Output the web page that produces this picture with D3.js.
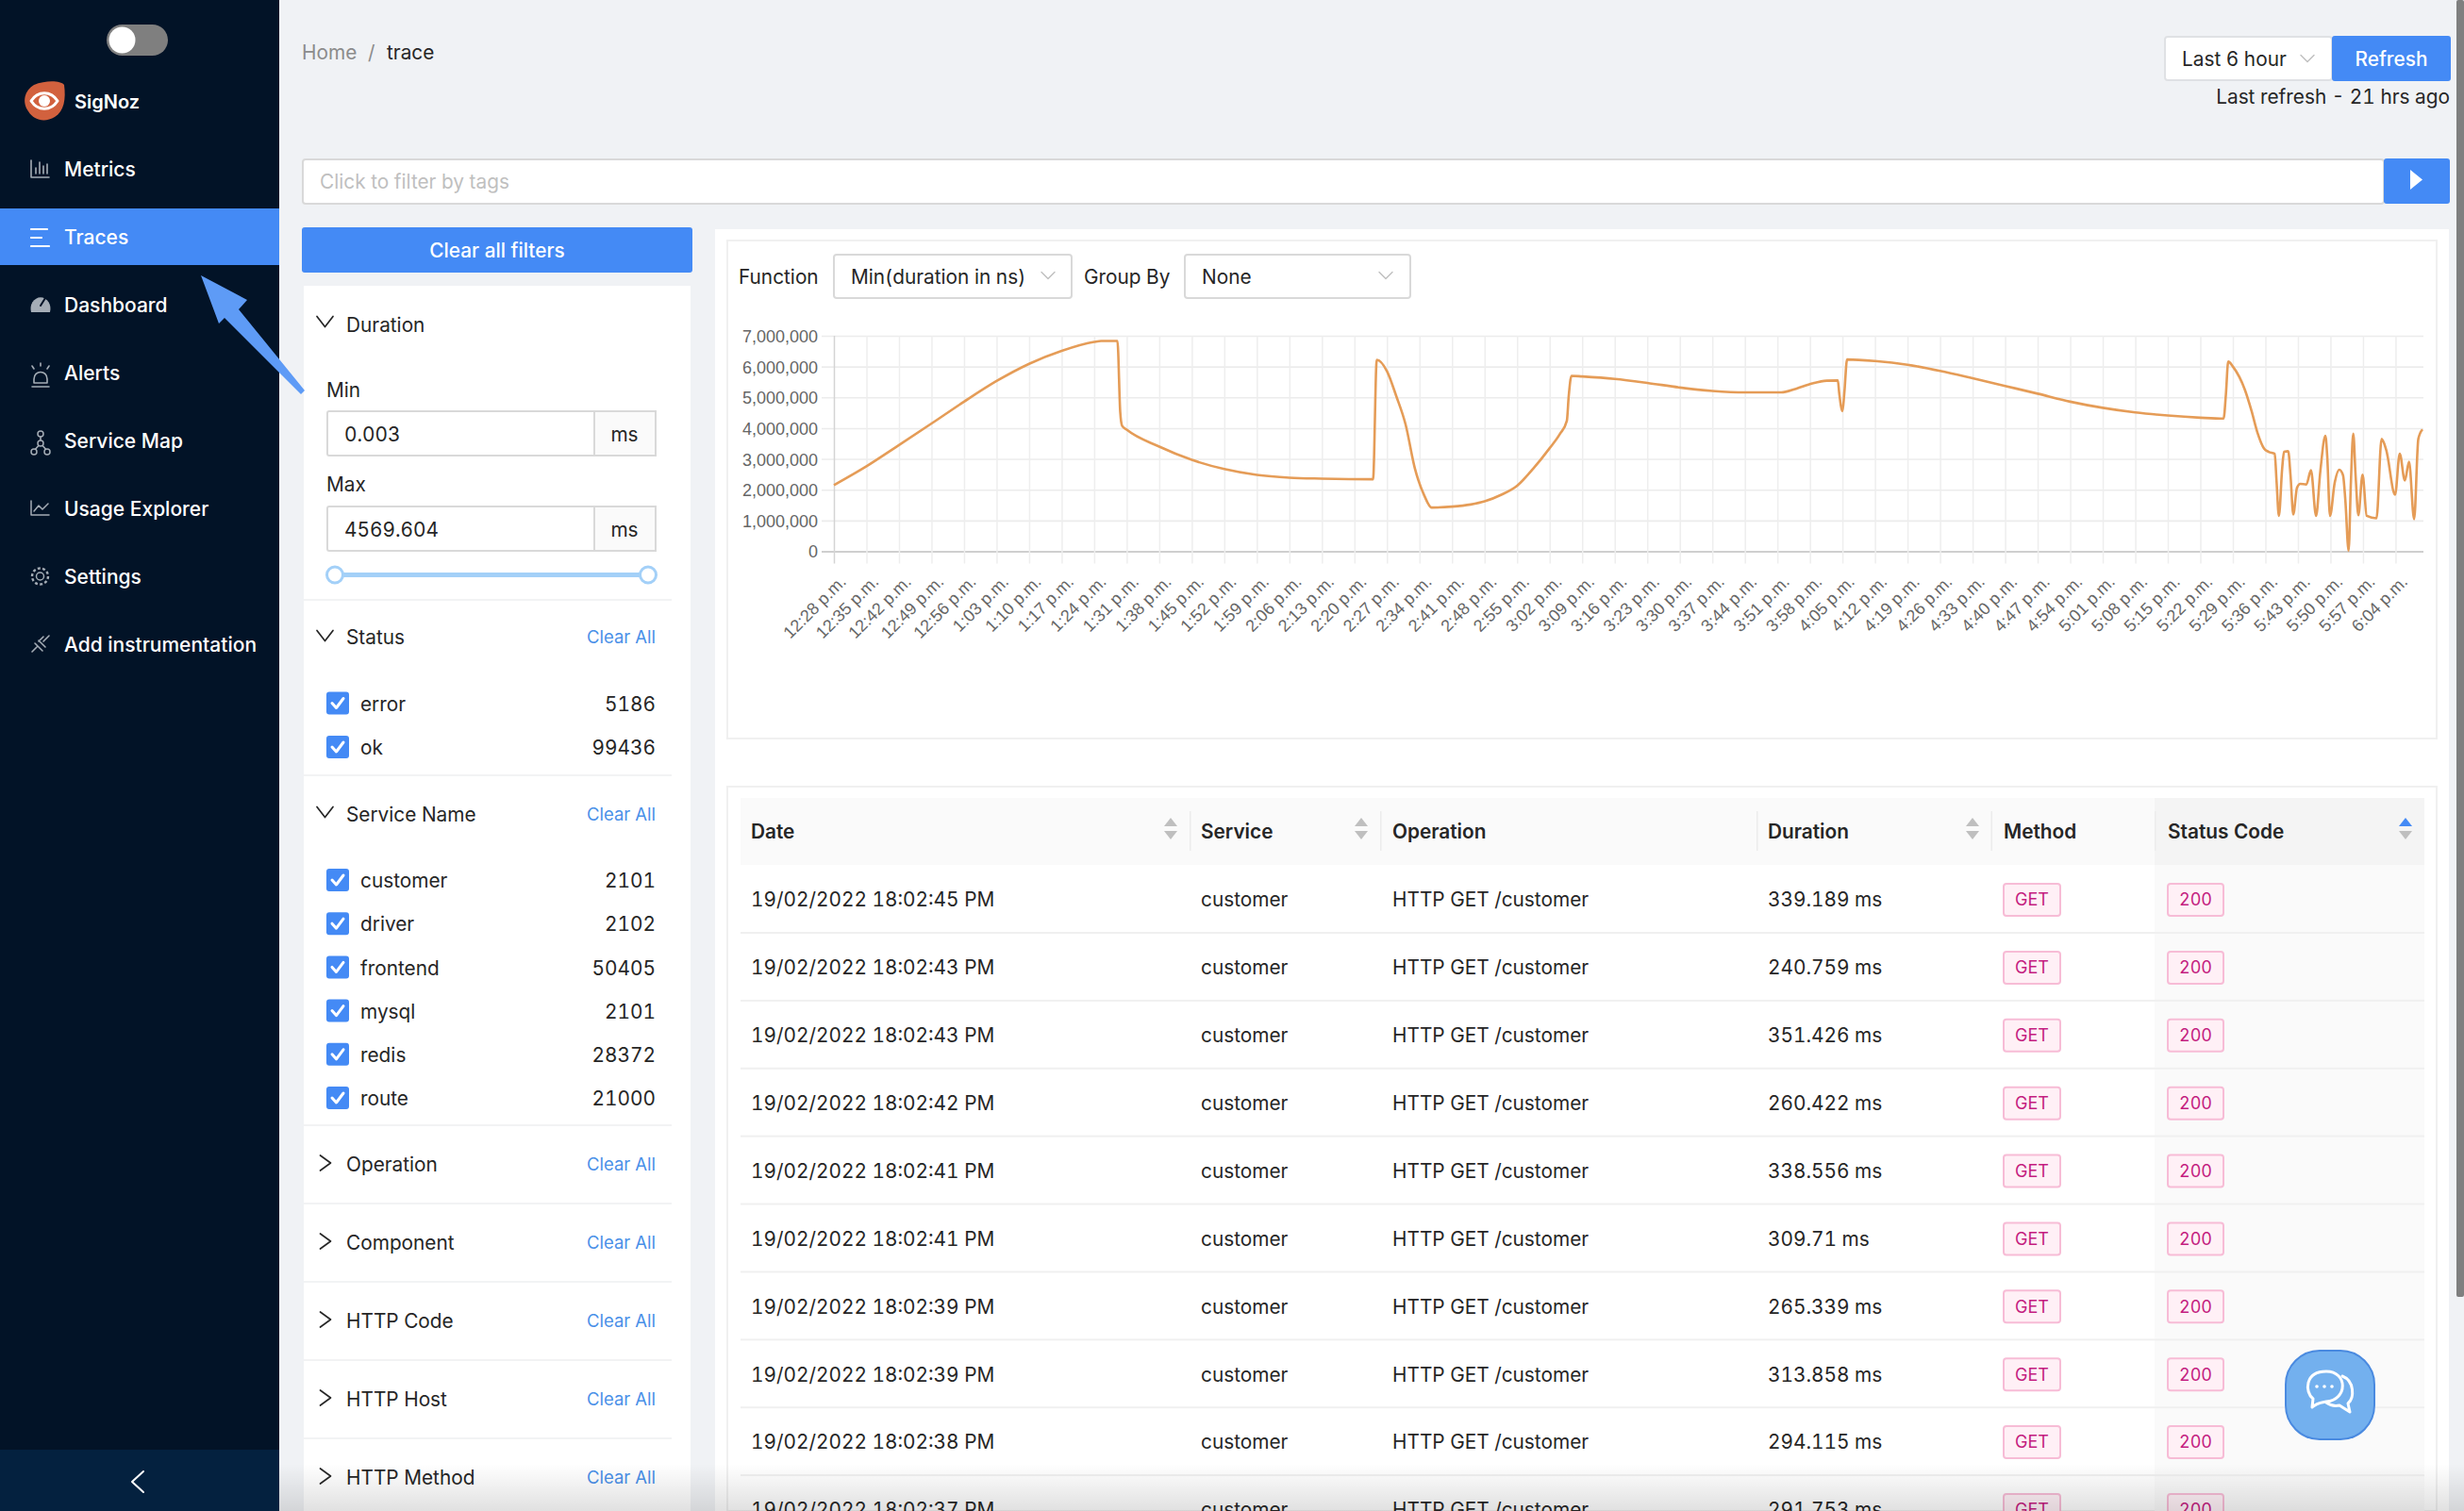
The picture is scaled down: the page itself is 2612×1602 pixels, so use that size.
<!DOCTYPE html>
<html><head><meta charset="utf-8">
<script src="https://cdn.jsdelivr.net/npm/d3@7"></script>
<style>html,body{margin:0;padding:0;background:#f0f2f5;overflow:hidden}svg{display:block}text{font-variant-numeric:tabular-nums}</style>
</head><body><svg id="c" width="2612" height="1602"></svg>
<script>
// ---------- chart data ----------
const minutes = [0,7,14,21,28,35,42,49,56,57.5,61,61.6,62,63,70,77,84,91,98,105,116,116.8,119,121,123,125,127,128.6,133,137,140,143.5,147,150.5,154,156.2,157.7,158.1,158.7,161,168,175,182,189,196,203.8,207,210.5,213.6,216,216.3,217,217.4,218,224,231,238,245,252,259,266,273,280,287,294,299,299.5,300,301,303.6,305,306.3,307.7,308.7,310,310.4,310.9,311.6,312,312.9,313.4,314,314.8,315.5,316.8,317.8,318.9,319.8,320.9,321.3,321.9,322.9,323.9,324.7,325.2,325.9,326.4,326.9,327.4,328,328.9,329.8,331.9,333,334,335.9,336.9,338,338.9,340,340.9,341.8];
const durations = [2150000,2760000,3450000,4150000,4860000,5530000,6090000,6510000,6800000,6830000,6830000,4530000,4080000,3950000,3400000,2970000,2670000,2480000,2390000,2360000,2340000,6220000,5850000,5040000,4120000,2690000,1820000,1420000,1450000,1520000,1620000,1830000,2130000,2690000,3350000,3810000,4240000,5040000,5700000,5680000,5600000,5470000,5320000,5210000,5160000,5160000,5280000,5450000,5540000,5550000,5140000,4550000,5140000,6230000,6180000,6060000,5860000,5620000,5370000,5120000,4860000,4660000,4510000,4410000,4340000,4310000,5100000,6160000,6000000,5240000,4570000,3850000,3340000,3230000,3170000,2270000,1150000,2680000,3230000,3250000,2470000,1200000,2070000,2190000,2170000,2630000,1150000,2580000,3750000,3090000,1150000,2220000,2650000,2470000,1660000,20000,2270000,3820000,2470000,1170000,2490000,1150000,1070000,3650000,3290000,1840000,3170000,2300000,2910000,1040000,3650000,3960000];
const yTicks = [0,1000000,2000000,3000000,4000000,5000000,6000000,7000000];
const xTickLabels = ["12:28 p.m.","12:35 p.m.","12:42 p.m.","12:49 p.m.","12:56 p.m.","1:03 p.m.","1:10 p.m.","1:17 p.m.","1:24 p.m.","1:31 p.m.","1:38 p.m.","1:45 p.m.","1:52 p.m.","1:59 p.m.","2:06 p.m.","2:13 p.m.","2:20 p.m.","2:27 p.m.","2:34 p.m.","2:41 p.m.","2:48 p.m.","2:55 p.m.","3:02 p.m.","3:09 p.m.","3:16 p.m.","3:23 p.m.","3:30 p.m.","3:37 p.m.","3:44 p.m.","3:51 p.m.","3:58 p.m.","4:05 p.m.","4:12 p.m.","4:19 p.m.","4:26 p.m.","4:33 p.m.","4:40 p.m.","4:47 p.m.","4:54 p.m.","5:01 p.m.","5:08 p.m.","5:15 p.m.","5:22 p.m.","5:29 p.m.","5:36 p.m.","5:43 p.m.","5:50 p.m.","5:57 p.m.","6:04 p.m."];
const xTickMinutes = xTickLabels.map((_, i) => i * 7);
// ---------- table data ----------
const tableHeaders = ["Date","Service","Operation","Duration","Method","Status Code"];
const rowDates = ["19/02/2022 18:02:45 PM","19/02/2022 18:02:43 PM","19/02/2022 18:02:43 PM","19/02/2022 18:02:42 PM","19/02/2022 18:02:41 PM","19/02/2022 18:02:41 PM","19/02/2022 18:02:39 PM","19/02/2022 18:02:39 PM","19/02/2022 18:02:38 PM","19/02/2022 18:02:37 PM"];
const rowDurations = ["339.189 ms","240.759 ms","351.426 ms","260.422 ms","338.556 ms","309.71 ms","265.339 ms","313.858 ms","294.115 ms","291.753 ms"];
const rowService = "customer", rowOperation = "HTTP GET /customer", rowMethod = "GET", rowStatus = "200";
// ---------- side panel data ----------
const menuItems = ["Metrics","Traces","Dashboard","Alerts","Service Map","Usage Explorer","Settings","Add instrumentation"];
const statusNames = ["error","ok"], statusCounts = [5186,99436];
const serviceNames = ["customer","driver","frontend","mysql","redis","route"], serviceCounts = [2101,2102,50405,2101,28372,21000];
const collapsedFilters = ["Operation","Component","HTTP Code","HTTP Host","HTTP Method"];

const UI = "Inter, 'Open Sans', sans-serif", CH = "'Liberation Sans', Arial, sans-serif";
const BLUE = "#448af5", INK = "#262626";
const svg = d3.select("#c");
function rect(x,y,w,h,fill,o={}){const r=svg.append("rect").attr("x",x).attr("y",y).attr("width",w).attr("height",h).attr("fill",fill);
  if(o.rx)r.attr("rx",o.rx); if(o.stroke)r.attr("stroke",o.stroke).attr("stroke-width",o.sw||2); return r;}
function txt(x,y,s,o={}){return svg.append("text").attr("x",x).attr("y",y+1).attr("dy","0.35em").text(s)
  .attr("font-family",o.font||UI).attr("font-size",o.size||20.8).attr("font-weight",o.weight||400).attr("fill",o.fill||INK)
  .attr("text-anchor",o.anchor||"start").attr("letter-spacing",o.ls||0);}
function path(d,o={}){return svg.append("path").attr("d",d).attr("fill",o.fill||"none").attr("stroke",o.stroke||"none").attr("stroke-width",o.sw||2).attr("stroke-linecap","round").attr("stroke-linejoin","round");}
function chevDown(cx,cy,c="#262626",w=8.5,h=11,sw=1.7){path(`M${cx-w},${cy-h/2}L${cx},${cy+h/2}L${cx+w},${cy-h/2}`,{stroke:c,sw});}
function chevRight(cx,cy){path(`M${cx-5.5},${cy-8}L${cx+5.5},${cy}L${cx-5.5},${cy+8}`,{stroke:"#262626",sw:1.7});}

// ---------- page surfaces ----------
rect(0,0,2612,1602,"#f0f2f5");
rect(0,0,296,1602,"#021327");
rect(0,1537,296,65,"#04213f");
path("M152,1560L140,1571L152,1582",{stroke:"#fff",sw:2});
rect(0,221,296,60,BLUE);
// toggle + logo
rect(113,26,65,33,"#7f7f7f",{rx:16.5});
svg.append("ellipse").attr("cx",129.5).attr("cy",42.5).attr("rx",14).attr("ry",14).attr("fill","#fff");
path("M36,90C48,85 64,85 68,90C70,105 68,118 58,124C48,130 36,128 30,118C23,108 26,96 36,90Z",{fill:"#d2613e"});
path("M33,107C40,96 54,96 61,107C54,118 40,118 33,107Z",{stroke:"#fff",sw:3});
svg.append("circle").attr("cx",47).attr("cy",107).attr("r",6).attr("fill","#fff");
txt(79,107,"SigNoz",{fill:"#fff",weight:600,size:20});
// menu
const menuY = d3.scaleLinear().domain([0,7]).range([179,683]);
menuItems.forEach((m,i)=>txt(68,menuY(i),m,{fill:"#fff",weight:500,size:21}));
const ic="#a5adb6";
path("M33,170V188H52 M38,184V178 M42,184V172 M46,184V176 M50,184V174",{stroke:ic,sw:1.6});
path("M33,243H50 M33,252H44 M33,261H52",{stroke:"#fff",sw:2.2});
path("M33,331A10.5,12 0 1 1 53,331Z",{fill:ic});
path("M43,324L48,316",{stroke:"#021327",sw:2});
path("M43,385V388 M34,388L36,391 M52,388L50,391 M36,402C36,392 50,392 50,402V406H36Z M34,410H52",{stroke:ic,sw:1.6});
path("M43,462V470 M43,470L36,478 M43,470L50,478",{stroke:ic,sw:1.6});
[[43,460],[36,479],[50,479],[43,470]].forEach(p=>svg.append("circle").attr("cx",p[0]).attr("cy",p[1]).attr("r",3).attr("fill","#021327").attr("stroke",ic).attr("stroke-width",1.5));
path("M33,531V546H52 M36,542L41,536L45,540L51,534",{stroke:ic,sw:1.5});
svg.append("circle").attr("cx",42.5).attr("cy",611).attr("r",4).attr("fill","none").attr("stroke",ic).attr("stroke-width",1.5);
svg.append("circle").attr("cx",42.5).attr("cy",611).attr("r",8.5).attr("fill","none").attr("stroke",ic).attr("stroke-width",2.4).attr("stroke-dasharray","3 2.3");
path("M34,691L39,686 M41,680L46,675 M37,682L45,690 M41,679L48,686 M46,680L52,674",{stroke:ic,sw:1.6});

// breadcrumb + header controls
txt(320,55,"Home",{fill:"#8c8c8c"});
txt(390,55,"/",{fill:"#8c8c8c"});
txt(410,55,"trace");
rect(2295,39,177,46,"#fff",{stroke:"#dfe1e4",sw:2,rx:3});
txt(2313,62,"Last 6 hour");
chevDown(2446,62,"#bfbfbf",7,7,1.4);
rect(2472,38,126,48,BLUE,{rx:3});
txt(2535,62,"Refresh",{fill:"#fff",anchor:"middle",weight:500});
txt(2597,102,"Last refresh - 21 hrs ago",{anchor:"end"});
rect(321,169,2206,47,"#fff",{stroke:"#d9d9d9",sw:2,rx:3});
txt(339,192,"Click to filter by tags",{fill:"#bfbfbf"});
rect(2527,168,70,48,BLUE,{rx:3});
path("M2555,180L2568,190.5L2555,201Z",{fill:"#fff"});

// left filter panel
rect(320,241,414,48,BLUE,{rx:3});
txt(527,265,"Clear all filters",{fill:"#fff",anchor:"middle",weight:500});
rect(322,303,410,1299,"#fff");
chevDown(344.5,341);
txt(367,344,"Duration");
txt(346,413,"Min");
txt(346,513,"Max");
[[436,"0.003"],[537,"4569.604"]].forEach(([y,v])=>{
  rect(347,y,348,47,"#fff",{stroke:"#d9d9d9",sw:2,rx:2});
  rect(630,y,65,47,"#fafafa",{stroke:"#d9d9d9",sw:2});
  txt(365,y+24,v);
  txt(662,y+24,"ms",{anchor:"middle"});
});
const sliderX = d3.scaleLinear().domain([0.003,4569.604]).range([355,687]);
rect(sliderX(0.003),607,sliderX(4569.604)-sliderX(0.003),5,"#a3d0f8");
[0.003,4569.604].forEach(v=>svg.append("circle").attr("cx",sliderX(v)).attr("cy",609.5).attr("r",8.5).attr("fill","#fff").attr("stroke","#a3d0f8").attr("stroke-width",3));
function divider(y){rect(322,y,390,2,"#f2f3f4");}
function clearAll(y){txt(695,y,"Clear All",{fill:"#4a90e8",anchor:"end",size:18.5});}
function check(y,name,count){
  rect(346,y-12,24,24,BLUE,{rx:3});
  path(`M352,${y}L356.5,${y+5}L364,${y-5}`,{stroke:"#fff",sw:3});
  txt(382,y,name);
  txt(695,y,d3.format("d")(count),{anchor:"end"});
}
divider(635);
chevDown(344.5,674); txt(367,675,"Status"); clearAll(675);
const statusY = d3.scaleLinear().domain([0,1]).range([745.5,792]);
statusNames.forEach((n,i)=>check(statusY(i),n,statusCounts[i]));
divider(821);
chevDown(344.5,861); txt(367,863,"Service Name"); clearAll(863);
const serviceY = d3.scaleLinear().domain([0,5]).range([933,1164]);
serviceNames.forEach((n,i)=>check(serviceY(i),n,serviceCounts[i]));
const collapsedY = d3.scaleLinear().domain([0,4]).range([1234,1566]);
collapsedFilters.forEach((n,i)=>{divider(collapsedY(i)-42);chevRight(345,collapsedY(i)-1);txt(367,collapsedY(i),n);clearAll(collapsedY(i));});

// right content
rect(758,243,1838,1359,"#fff");
rect(771,255,1812,528,"#fff",{stroke:"#f0f0f0",sw:2});
txt(783,292.5,"Function");
rect(884,270,252,46,"#fff",{stroke:"#d9d9d9",sw:2,rx:3});
txt(902,293,"Min(duration in ns)");
chevDown(1111,292,"#bfbfbf",7,7,1.4);
txt(1149,292.5,"Group By");
rect(1256,270,239,46,"#fff",{stroke:"#d9d9d9",sw:2,rx:3});
txt(1274,293,"None");
chevDown(1469,292,"#bfbfbf",7,7,1.4);

// ---------- the chart ----------
const x = d3.scaleLinear().domain([0,342]).range([884,2569]);
const y = d3.scaleLinear().domain([0,7000000]).range([584.5,356]);
const gy = svg.append("g").attr("transform",`translate(${x(0)},0)`)
  .call(d3.axisLeft(y).tickValues(yTicks).tickFormat(d3.format(",")).tickSize(13).tickPadding(4));
gy.select(".domain").remove();
gy.selectAll(".tick line").attr("x2",x(342)-x(0)).attr("x1",-13).attr("stroke",d=>d===0?"#cfcfcf":"#ececec").attr("stroke-width",d=>d===0?2:1.6);
gy.selectAll("text").attr("font-family",CH).attr("font-size",18).attr("fill","#666").attr("dy","0.36em");
const gx = svg.append("g").attr("transform",`translate(0,${y(0)})`)
  .call(d3.axisBottom(x).tickValues(xTickMinutes).tickFormat((d,i)=>xTickLabels[i]).tickSize(13).tickPadding(8));
gx.select(".domain").remove();
gx.selectAll(".tick line").attr("y1",y(7000000)-y(0)).attr("y2",13).attr("stroke",d=>d===0?"#d4d4d4":"#eeeeee").attr("stroke-width",1.5);
gx.selectAll("text").attr("font-family",CH).attr("font-size",18).attr("fill","#666")
  .attr("text-anchor","end").attr("transform","translate(9,29) rotate(-45)").attr("x",0).attr("y",0).attr("dy","0.35em");
const line = d3.line().x((d,i)=>x(minutes[i])).y(d=>y(d)).curve(d3.curveMonotoneX);
svg.append("path").datum(durations).attr("d",line).attr("fill","none").attr("stroke","#e59c57").attr("stroke-width",2.6).attr("stroke-linejoin","round");

// ---------- the table ----------
rect(771,834,1812,768,"#fff",{stroke:"#f0f0f0",sw:2});
rect(785,846,1785,71,"#fafafa");
rect(2284,846,286,71,"#f4f4f4");
rect(2284,917,286,685,"#fafafa");
const headerX = [796,1273,1476,1874,2124,2298];
const sepX = [1261,1463,1862,2110.5,2284];
const sortX = [1241,1443,2091,null,2550];
tableHeaders.forEach((h,i)=>txt(headerX[i],881,h,{weight:600}));
sepX.forEach(v=>rect(v,860,1.5,42,"#ececec"));
sortX.forEach((v,i)=>{ if(v===null) return;
  path(`M${v-7},${876}L${v},${867}L${v+7},${876}Z`,{fill:i===4?BLUE:"#bfbfbf"});
  path(`M${v-7},${881}L${v},${890}L${v+7},${881}Z`,{fill:"#bfbfbf"});
});
const rowY = d3.scaleLinear().domain([0,9]).range([953,1600]);
rowDates.forEach((d,i)=>{
  const cy=rowY(i);
  rect(785,cy+35,1785,2,"#f0f0f0");
  txt(796,cy,d); txt(1273,cy,rowService); txt(1476,cy,rowOperation); txt(1874,cy,rowDurations[i]);
  rect(2124,cy-16,60,34,"#fff0f6",{stroke:"#f7bcd6",sw:2,rx:3});
  txt(2154,cy,rowMethod,{fill:"#c41d7f",anchor:"middle",size:18});
  rect(2298,cy-16,59,34,"#fff0f6",{stroke:"#f7bcd6",sw:2,rx:3});
  txt(2327.5,cy,rowStatus,{fill:"#c41d7f",anchor:"middle",size:18});
});
// chat bubble
rect(2423,1432,94,94,"#73b0ee",{rx:36,stroke:"#4a8ae0",sw:2});
path("M2451,1492L2452,1483C2443,1476 2443,1454 2466,1454C2489,1454 2489,1484 2466,1486C2461,1487 2456,1487 2451,1492Z",{stroke:"#fff",sw:3});
path("M2483,1459C2496,1464 2496,1482 2489,1488L2491,1497L2480,1490C2475,1491 2470,1490 2466,1487",{stroke:"#fff",sw:3});
[2456,2464,2472].forEach(v=>svg.append("circle").attr("cx",v).attr("cy",1470).attr("r",1.8).attr("fill","#fff"));

// annotation arrow
path("M213,292L262,318L253,328L323,414L319,418L238,337L232,343Z",{fill:"#5e9bf6"});

// bottom fade and scrollbar
const defs=svg.append("defs");
const lg=defs.append("linearGradient").attr("id","fade").attr("x1",0).attr("x2",0).attr("y1",0).attr("y2",1);
lg.append("stop").attr("offset",0).attr("stop-color","#000").attr("stop-opacity",0);
lg.append("stop").attr("offset",1).attr("stop-color","#000").attr("stop-opacity",0.12);
rect(296,1552,2316,50,"url(#fade)");
rect(2604,0,8,1375,"#7f7f7f",{rx:2});
</script></body></html>
